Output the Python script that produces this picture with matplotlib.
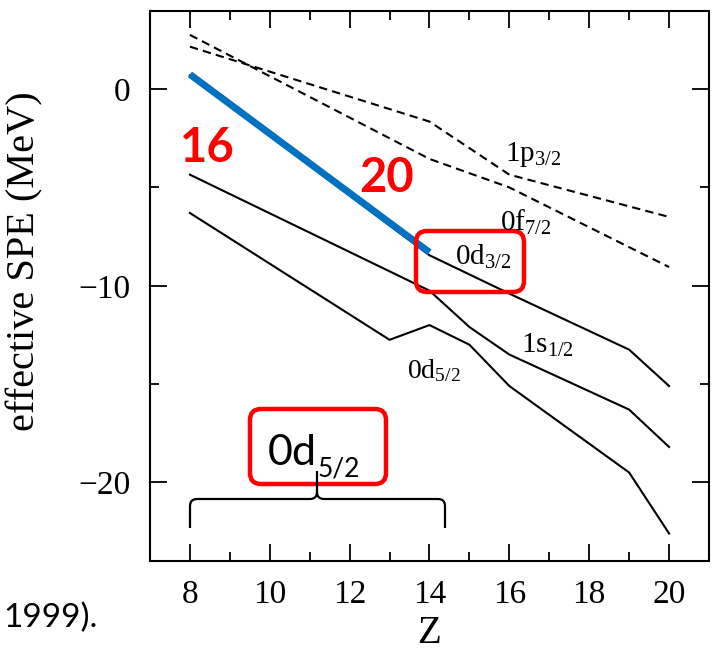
import matplotlib
matplotlib.use("Agg")
import matplotlib.pyplot as plt
from matplotlib.patches import FancyBboxPatch, PathPatch
from matplotlib.path import Path
from matplotlib.transforms import IdentityTransform
from matplotlib.ticker import MultipleLocator

# effective single-particle energies (MeV) vs proton number Z
z_d32 = [8, 14, 16, 19, 20]
e_d32 = [0.7, -8.45, -10.4, -13.25, -15.1]

z_s12 = [8, 14, 15, 16, 19, 20]
e_s12 = [-4.35, -10.25, -12.1, -13.5, -16.3, -18.2]

z_d52 = [8, 13, 14, 15, 16, 19, 20]
e_d52 = [-6.3, -12.75, -12.0, -13.0, -15.1, -19.5, -22.6]

z_p32 = [8, 14, 16, 20]
e_p32 = [2.16, -1.65, -4.35, -6.5]

z_f72 = [8, 14, 16, 20]
e_f72 = [2.76, -3.55, -5.0, -9.05]

# highlighted stretch of 0d3/2 (N=16 -> N=20)
z_blue = [8, 14]
e_blue = [0.75, -8.3]

plt.rcParams['font.family'] = ['Liberation Serif', 'DejaVu Serif']
plt.rcParams['mathtext.fontset'] = 'custom'
plt.rcParams['mathtext.rm'] = 'Liberation Serif'
plt.rcParams['mathtext.it'] = 'Liberation Serif:italic'

W, H = 713, 652
fig = plt.figure(figsize=(W / 100, H / 100), dpi=100)
ax = fig.add_axes([150 / W, 1 - 561 / H, (709 - 150) / W, (561 - 10.5) / H])

dash = (0, (4, 2.5))
ax.plot(z_d32, e_d32, color='black', lw=1.5)
ax.plot(z_s12, e_s12, color='black', lw=1.5)
ax.plot(z_d52, e_d52, color='black', lw=1.5)
ax.plot(z_p32, e_p32, color='black', lw=1.5, ls=dash)
ax.plot(z_f72, e_f72, color='black', lw=1.5, ls=dash)
ax.plot(z_blue, e_blue, color='#0070C0', lw=5, solid_capstyle='butt')

ax.set_xlim(7, 21)
ax.set_ylim(-24, 4)
ax.xaxis.set_major_locator(MultipleLocator(2))
ax.xaxis.set_minor_locator(MultipleLocator(1))
ax.yaxis.set_major_locator(MultipleLocator(10))
ax.yaxis.set_minor_locator(MultipleLocator(5))
ax.tick_params(which='both', direction='in', top=True, right=True, width=1.3)
ax.tick_params(which='major', length=12, labelsize=24)
ax.tick_params(axis='x', which='major', pad=13)
ax.tick_params(axis='y', which='major', pad=14)
ax.tick_params(which='minor', length=6.5)
for s in ax.spines.values():
    s.set_linewidth(1.5)

ax.set_ylabel('effective SPE (MeV)', fontsize=29)
ax.yaxis.set_label_coords(-0.19, 0.545)
ax.set_xlabel('Z', fontsize=28, va='top')
ax.xaxis.set_label_coords(0.5, -0.098)

ident = IdentityTransform()


def ptext(x, y, s, **kw):
    # place text by pixel position measured from the top-left corner
    return fig.text(x, H - y, s, transform=ident, **kw)


# curve labels
ptext(505, 161, r'1p$_{3/2}$', fontsize=21, ha='left', va='baseline')
ptext(500, 231, r'0f$_{7/2}$', fontsize=21, ha='left', va='baseline')
ptext(455, 265, r'0d$_{3/2}$', fontsize=21, ha='left', va='baseline')
ptext(521, 353, r'1s$_{1/2}$', fontsize=21, ha='left', va='baseline')
ptext(407, 378, r'0d$_{5/2}$', fontsize=20, ha='left', va='baseline')

# slide annotations
red = '#FF0000'
ptext(207, 148, '16', fontsize=34, color=red, fontweight='bold',
      family='Lato', ha='center', va='center')
ptext(387, 178, '20', fontsize=34, color=red, fontweight='bold',
      family='Lato', ha='center', va='center')


def rbox(x0, y0, x1, y1):
    fig.patches.append(FancyBboxPatch(
        (x0, H - y1), x1 - x0, y1 - y0,
        boxstyle='round,pad=0,rounding_size=11', transform=ident,
        fill=False, edgecolor=red, lw=3.2, figure=fig))


rbox(416, 231, 524, 292)
rbox(250, 409, 386, 484)

ptext(268, 465, '0d', fontsize=31, family='Lato', ha='left', va='baseline')
ptext(318, 477, '5/2', fontsize=19, family='Lato', ha='left', va='baseline')

ptext(3, 627, '1999).', fontsize=24, family='Lato', ha='left', va='baseline')

# curly brace under the 0d5/2 box (pixel coordinates)
bx0, bx1, bxm = 190, 445, 317
by, byend, bytip = 499, 528, 471
r = 7
verts = [
    (bx0, byend), (bx0, by + r), (bx0, by), (bx0 + r, by),
    (bxm - r, by), (bxm, by), (bxm, by - r), (bxm, bytip),
    (bxm, by - r), (bxm, by), (bxm + r, by),
    (bx1 - r, by), (bx1, by), (bx1, by + r), (bx1, byend),
]
codes = [Path.MOVETO, Path.LINETO, Path.CURVE3, Path.CURVE3,
         Path.LINETO, Path.CURVE3, Path.CURVE3, Path.LINETO,
         Path.MOVETO, Path.CURVE3, Path.CURVE3,
         Path.LINETO, Path.CURVE3, Path.CURVE3, Path.LINETO]
verts = [(x, H - y) for x, y in verts]
fig.patches.append(PathPatch(Path(verts, codes), transform=ident, fill=False,
                             edgecolor='black', lw=1.6, figure=fig))

fig.savefig('out.png', dpi=100)
